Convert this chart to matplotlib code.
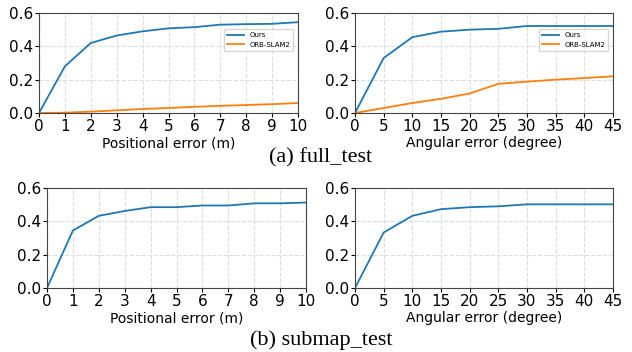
import matplotlib as mpl
mpl.use('Agg')
import matplotlib.pyplot as plt

# positional error thresholds (m) and angular thresholds (degree)
pos_x = [0, 1, 2, 3, 4, 5, 6, 7, 8, 9, 10]
ang_x = [0, 5, 10, 15, 20, 25, 30, 35, 40, 45]

full_pos_ours = [0, 0.28, 0.42, 0.465, 0.49, 0.508, 0.515, 0.53, 0.533, 0.535, 0.545]
full_pos_orb = [0, 0.002, 0.008, 0.016, 0.024, 0.03, 0.037, 0.043, 0.048, 0.053, 0.06]
full_ang_ours = [0, 0.33, 0.455, 0.488, 0.5, 0.505, 0.522, 0.522, 0.522, 0.522]
full_ang_orb = [0, 0.03, 0.06, 0.085, 0.117, 0.175, 0.188, 0.2, 0.21, 0.22]

sub_pos_ours = [0, 0.345, 0.433, 0.462, 0.485, 0.485, 0.495, 0.495, 0.508, 0.508, 0.513]
sub_ang_ours = [0, 0.333, 0.433, 0.473, 0.485, 0.49, 0.502, 0.502, 0.502, 0.502]

W, H = 632, 352
fig = plt.figure(figsize=(W / 100, H / 100), dpi=100)


def make_ax(x0, x1, ytop):
    ax = fig.add_axes([x0 / W, 1 - (ytop + 100) / H, (x1 - x0) / W, 100 / H])
    ax.grid(True, linestyle='--', color='#dddddd', linewidth=0.8)
    ax.set_axisbelow(True)
    ax.set_ylim(0, 0.6)
    ax.set_yticks([0, 0.2, 0.4, 0.6])
    ax.tick_params(labelsize=11, length=3, pad=1)
    for s in ax.spines.values():
        s.set_color('#444444')
    return ax


def pos_panel(ax, ys, orb=None):
    ax.plot(pos_x, ys, color='#1f77b4', lw=1.3, label='Ours')
    if orb is not None:
        ax.plot(pos_x, orb, color='#ff7f0e', lw=1.3, label='ORB-SLAM2')
    ax.set_xlim(0, 10)
    ax.set_xticks(pos_x)
    ax.set_xlabel('Positional error (m)', fontsize=10, labelpad=2)


def ang_panel(ax, ys, orb=None):
    ax.plot(ang_x, ys, color='#1f77b4', lw=1.3, label='Ours')
    if orb is not None:
        ax.plot(ang_x, orb, color='#ff7f0e', lw=1.3, label='ORB-SLAM2')
    ax.set_xlim(0, 45)
    ax.set_xticks(ang_x)
    ax.set_xlabel('Angular error (degree)', fontsize=10, labelpad=2)


ax1 = make_ax(39, 298, 13)
pos_panel(ax1, full_pos_ours, full_pos_orb)
ax2 = make_ax(355, 613, 13)
ang_panel(ax2, full_ang_ours, full_ang_orb)
for ax in (ax1, ax2):
    ax.legend(loc='upper right', bbox_to_anchor=(0.995, 0.87), fontsize=5,
              frameon=True, handlelength=2.5)

ax3 = make_ax(47, 306, 188)
pos_panel(ax3, sub_pos_ours)
ax4 = make_ax(355, 613, 188)
ang_panel(ax4, sub_ang_ours)

fig.text(321 / W, 1 - 158 / H, '(a) full_test', ha='center', va='center',
         fontsize=16, family='Liberation Serif')
fig.text(321 / W, 1 - 340 / H, '(b) submap_test', ha='center', va='center',
         fontsize=16, family='Liberation Serif')

plt.savefig('out.png', dpi=100)
